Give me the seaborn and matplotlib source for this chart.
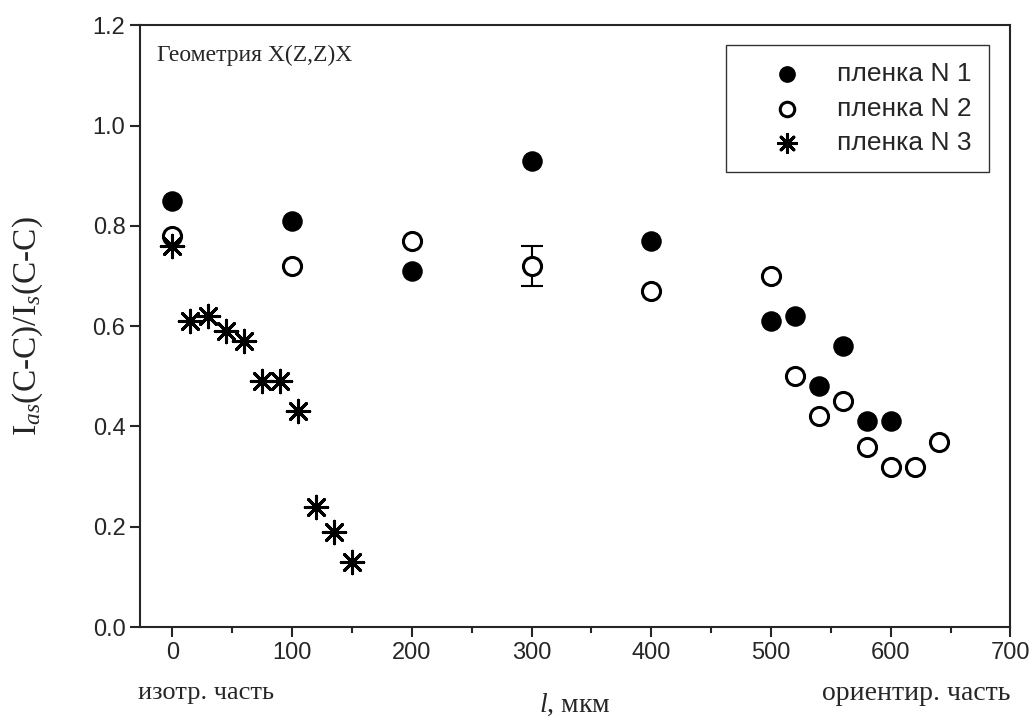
import matplotlib
matplotlib.use("Agg")
import matplotlib.pyplot as plt
import seaborn as sns
import pandas as pd
from matplotlib.ticker import MultipleLocator, FormatStrFormatter

sns.set_style("ticks")
plt.rcParams['font.family'] = ['Liberation Sans', 'DejaVu Sans']
plt.rcParams['mathtext.fontset'] = 'custom'
plt.rcParams['mathtext.rm'] = 'Liberation Serif'
plt.rcParams['mathtext.it'] = 'Liberation Serif:italic'

x1 = [0, 100, 200, 300, 400, 500, 520, 540, 560, 580, 600]
y1 = [0.85, 0.81, 0.71, 0.93, 0.77, 0.61, 0.62, 0.48, 0.56, 0.41, 0.41]
x2 = [0, 100, 200, 300, 400, 500, 520, 540, 560, 580, 600, 620, 640]
y2 = [0.78, 0.72, 0.77, 0.72, 0.67, 0.70, 0.50, 0.42, 0.45, 0.36, 0.32, 0.32, 0.37]
x3 = [0, 15, 30, 45, 60, 75, 90, 105, 120, 135, 150]
y3 = [0.76, 0.61, 0.62, 0.59, 0.57, 0.49, 0.49, 0.43, 0.24, 0.19, 0.13]
err_x = [300]
err_y = [0.72]
err_val = [0.04]
labels = ['пленка N 1', 'пленка N 2', 'пленка N 3']

fig = plt.figure(figsize=(10.3, 7.2), dpi=100)
ax = fig.add_axes([0.136, 0.129, 0.845, 0.836])

ax.errorbar(err_x, err_y, yerr=err_val, fmt='none', ecolor='black',
            elinewidth=1.5, capsize=8, capthick=1.5, zorder=1)

d1 = pd.DataFrame({'x': x1, 'y': y1})
d2 = pd.DataFrame({'x': x2, 'y': y2})
d3 = pd.DataFrame({'x': x3, 'y': y3})
sns.scatterplot(data=d1, x='x', y='y', ax=ax, marker='o', s=190, color='black',
                edgecolor='black', linewidth=1, label=labels[0], zorder=3)
sns.scatterplot(data=d2, x='x', y='y', ax=ax, marker='o', s=170, facecolor='white',
                edgecolor='black', linewidth=2.2, label=labels[1], zorder=3)
sns.scatterplot(data=d3, x='x', y='y', ax=ax, marker=(8, 2, 0), s=260, color='black',
                edgecolor='black', linewidth=2.2, label=labels[2], zorder=3)

ax.set_xlim(-27, 700)
ax.set_ylim(0, 1.2)
ax.xaxis.set_major_locator(MultipleLocator(100))
ax.xaxis.set_minor_locator(MultipleLocator(50))
ax.yaxis.set_major_locator(MultipleLocator(0.2))
ax.yaxis.set_major_formatter(FormatStrFormatter('%.1f'))
ax.tick_params(which='major', direction='out', length=7, width=1.5, labelsize=17)
ax.tick_params(which='minor', direction='out', length=4, width=1.5)
for sp in ax.spines.values():
    sp.set_linewidth(1.5)
    sp.set_visible(True)

ax.set_xlabel(r'$\mathit{l}$, мкм', fontsize=20, family=['Liberation Serif'], labelpad=20)
ax.set_ylabel(r'I$_{\mathit{as}}$(C-C)/I$_{\mathit{s}}$(C-C)', fontsize=24,
              family=['Liberation Serif'], labelpad=34)
ax.text(28, -0.11, 'изотр. часть', transform=ax.get_xaxis_transform(), fontsize=19,
        family=['Liberation Serif'], ha='center', va='center')
ax.text(1.0, -0.11, 'ориентир. часть', transform=ax.transAxes, fontsize=20,
        family=['Liberation Serif'], ha='right', va='center')
ax.text(0.02, 0.95, 'Геометрия X(Z,Z)X', transform=ax.transAxes, fontsize=17,
        family=['Liberation Serif'], ha='left', va='center')

leg = ax.legend(loc='upper right', bbox_to_anchor=(0.975, 0.967), fontsize=19,
                frameon=True, fancybox=False, edgecolor='black', markerscale=0.8,
                handlelength=3.3, handletextpad=0.25, borderpad=0.65,
                labelspacing=0.4, borderaxespad=0.0)
leg.get_frame().set_linewidth(1.0)

fig.savefig('out.png', dpi=100)
